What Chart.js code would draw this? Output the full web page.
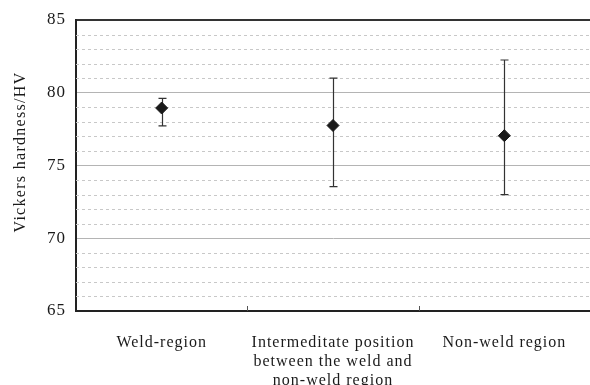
<!DOCTYPE html>
<html>
<head>
<meta charset="utf-8">
<script src="https://cdn.jsdelivr.net/npm/chart.js@4"></script>
<style>
  html, body { margin: 0; padding: 0; background: #fff; }
  #wrap { width: 590px; height: 385px; }
</style>
</head>
<body>
<div id="wrap"><canvas id="dureza"></canvas></div>
<script>
// Regiões medidas e dureza média (HV) com valores mínimo / máximo
const regioes = [
  'Weld-region',
  ['Intermeditate position', 'between the weld and', 'non-weld region'],
  'Non-weld region'
];
const mediaHV = [78.95, 77.75, 77.05];
const minimoHV = [77.72, 73.55, 73.0];
const maximoHV = [79.62, 81.0, 82.25];
const tituloY = 'Vickers hardness/HV';

const fonteSerif = '"Liberation Serif", "DejaVu Serif", serif';
const corTexto = '#1a1a1a';

// espaçamento entre letras, como no gráfico impresso
// (o canvas perde o estado quando é redimensionado, então reaplica antes de medir e desenhar)
const espacamento = {
  id: 'espacamento',
  beforeUpdate(chart) { chart.ctx.letterSpacing = '1px'; },
  beforeLayout(chart) { chart.ctx.letterSpacing = '1px'; },
  beforeDraw(chart) { chart.ctx.letterSpacing = '1px'; }
};

// linhas tracejadas secundárias, barras de erro, marcas do eixo x e título do eixo y
const extras = {
  id: 'extras',
  beforeDatasetsDraw(chart) {
    const { ctx, chartArea, scales } = chart;
    const y = scales.y, x = scales.x;
    ctx.save();
    ctx.strokeStyle = '#c8c8c8';
    ctx.lineWidth = 1;
    ctx.setLineDash([3, 3]);
    y.ticks.forEach(t => {
      if (t.value % 5 === 0) return;
      const py = Math.round(y.getPixelForValue(t.value)) + 0.5;
      ctx.beginPath();
      ctx.moveTo(chartArea.left, py);
      ctx.lineTo(chartArea.right, py);
      ctx.stroke();
    });
    ctx.setLineDash([]);

    // marcas internas entre categorias
    ctx.strokeStyle = '#555';
    for (let i = 1; i < regioes.length; i++) {
      const px = Math.round((x.getPixelForValue(i - 1) + x.getPixelForValue(i)) / 2) + 0.5;
      ctx.beginPath();
      ctx.moveTo(px, chartArea.bottom);
      ctx.lineTo(px, chartArea.bottom - 5);
      ctx.stroke();
    }

    // barras de erro
    const meta = chart.getDatasetMeta(0);
    ctx.strokeStyle = '#333';
    ctx.lineWidth = 1.2;
    meta.data.forEach((pt, i) => {
      const px = Math.round(pt.x) + 0.5;
      const yHi = y.getPixelForValue(maximoHV[i]);
      const yLo = y.getPixelForValue(minimoHV[i]);
      ctx.beginPath();
      ctx.moveTo(px, yHi);
      ctx.lineTo(px, yLo);
      ctx.moveTo(px - 4, yHi);
      ctx.lineTo(px + 4, yHi);
      ctx.moveTo(px - 4, yLo);
      ctx.lineTo(px + 4, yLo);
      ctx.stroke();
    });
    ctx.restore();
  },
  afterDraw(chart) {
    const { ctx } = chart;
    ctx.save();
    ctx.letterSpacing = '1.3px';
    ctx.translate(21, 152);
    ctx.rotate(-Math.PI / 2);
    ctx.font = '16px ' + fonteSerif;
    ctx.fillStyle = corTexto;
    ctx.textAlign = 'center';
    ctx.textBaseline = 'middle';
    ctx.fillText(tituloY, 0, 0);
    ctx.restore();
  }
};

new Chart(document.getElementById('dureza'), {
  type: 'line',
  data: {
    labels: regioes,
    datasets: [{
      data: mediaHV,
      showLine: false,
      pointStyle: 'rectRot',
      pointRadius: 6,
      pointHoverRadius: 6,
      backgroundColor: '#1a1a1a',
      borderColor: '#1a1a1a',
      borderWidth: 1
    }]
  },
  options: {
    responsive: true,
    maintainAspectRatio: false,
    animation: false,
    layout: { autoPadding: false, padding: { top: 20, right: 0, left: 0, bottom: 0 } },
    plugins: {
      legend: { display: false },
      tooltip: { enabled: false }
    },
    scales: {
      x: {
        offset: true,
        grid: { display: false },
        border: { color: '#222', width: 2 },
        ticks: {
          color: corTexto,
          font: { family: fonteSerif, size: 16, lineHeight: 1.2 },
          padding: 14,
          maxRotation: 0,
          autoSkip: false
        },
        afterFit(scale) {
          scale.height = 74;
          scale.paddingLeft = 0;
          scale.paddingRight = 0;
        }
      },
      y: {
        min: 65,
        max: 85,
        border: { color: '#222', width: 2 },
        grid: {
          drawTicks: false,
          color: ctx => ctx.tick.value === 85 ? '#333' : (ctx.tick.value % 5 === 0 ? '#b4b4b4' : 'rgba(0,0,0,0)'),
          lineWidth: ctx => ctx.tick.value === 85 ? 2 : 1
        },
        ticks: {
          stepSize: 1,
          autoSkip: false,
          color: corTexto,
          padding: 10,
          font: { family: fonteSerif, size: 17 },
          callback: v => v % 5 === 0 ? v : ''
        },
        afterFit(scale) {
          scale.width = 76;
          scale.paddingTop = 0;
          scale.paddingBottom = 0;
        }
      }
    }
  },
  plugins: [espacamento, extras]
});
</script>
</body>
</html>
